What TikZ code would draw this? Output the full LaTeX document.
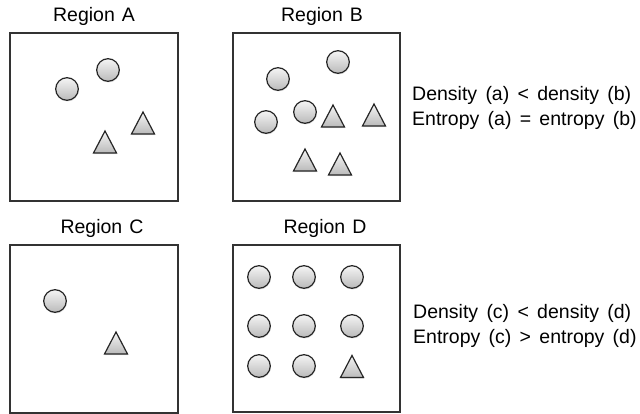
\documentclass[tikz,border=0pt]{standalone}
\usepackage{fontspec}
\setmainfont{Liberation Sans}
\usetikzlibrary{shadows}
\newcommand\titlefont{\fontsize{19.5}{22}\selectfont\spaceskip=7pt\relax}
\newcommand\notefont{\fontsize{19.5}{25.3}\selectfont\spaceskip=8.3pt\relax}
\tikzset{
  x=1pt, y=-1pt,
  regionbox/.style={draw=black!80, line width=1.1pt},
  shadefill/.style={draw=black!85, line width=1.2pt, top color=black!4, bottom color=black!27,
    drop shadow={opacity=0.22, shadow xshift=0.6pt, shadow yshift=-1.2pt}},
  ball/.style={shadefill, circle, minimum size=22.6pt, inner sep=0pt},
  title/.style={font=\titlefont, inner sep=0pt, anchor=base},
  note/.style={font=\notefont, anchor=base west, inner sep=0pt},
  tri/.pic={\path[shadefill] (-11.5,11) -- (0,-11) -- (11.5,11) -- cycle;}
}
\begin{document}
\begin{tikzpicture}
\useasboundingbox (0,0) rectangle (640,414);
% boxes
\draw[regionbox] (10,33) rectangle (178,201) node[pos=0,inner sep=0] (boxA) {};
\draw[regionbox] (233,33) rectangle (400,201) node[pos=0,inner sep=0] (boxB) {};
\draw[regionbox] (10,245) rectangle (178,413) node[pos=0,inner sep=0] (boxC) {};
\draw[regionbox] (233,245) rectangle (400,412) node[pos=0,inner sep=0] (boxD) {};
% titles
\node[title] (tA) at (94,21.5) {Region A};
\node[title] (tB) at (322,21.5) {Region B};
\node[title] (tC) at (102,234) {Region C};
\node[title] (tD) at (325,234) {Region D};
% Region A
\node[ball] (a1) at (67,89) {};
\node[ball] (a2) at (108,70) {};
\pic at (105,142) {tri};
\pic at (143,123) {tri};
% Region B
\node[ball] (b1) at (278,79) {};
\node[ball] (b2) at (338,62) {};
\node[ball] (b3) at (305,112) {};
\node[ball] (b4) at (266,122) {};
\pic at (333,116) {tri};
\pic at (374,115) {tri};
\pic at (305,160) {tri};
\pic at (340,164) {tri};
% Region C
\node[ball] (c1) at (55,301) {};
\pic at (116,343) {tri};
% Region D
\foreach \r/\yy in {1/277,2/326} {
  \foreach \c/\xx in {1/259,2/304,3/352} {
    \node[ball] (d\r\c) at (\xx,\yy) {};
  }
}
\node[ball] (d31) at (259,366) {};
\node[ball] (d32) at (304,366) {};
\pic at (352,366.5) {tri};
% notes
\node[note] (n1a) at (412,101) {Density (a) < density (b)};
\node[note] (n1b) at (412,126) {Entropy (a) = entropy (b)};
\node[note] (n2a) at (413,318.5) {Density (c) < density (d)};
\node[note] (n2b) at (413,343.5) {Entropy (c) > entropy (d)};
\end{tikzpicture}
\end{document}
